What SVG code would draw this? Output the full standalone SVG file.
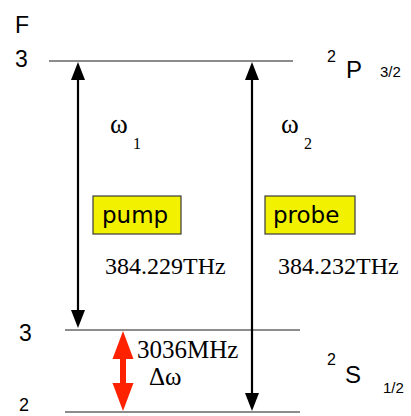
<svg xmlns="http://www.w3.org/2000/svg" width="411" height="416" viewBox="0 0 411 416">
<style>
.lvl{stroke:#8c8c8c;stroke-width:2;fill:none}
.arr{stroke:#000;stroke-width:2.2;fill:none}
.head{fill:#000}
.red{fill:#ff2200}
.sans{font-family:"Liberation Sans",Arial,sans-serif;fill:#000}
.serif{font-family:"Liberation Serif","Times New Roman",serif;fill:#000}
.box{fill:#f2f200;stroke:#3a3a3a;stroke-width:1.2}
.boxt{font-family:"DejaVu Sans",Verdana,sans-serif;font-size:23px;fill:#000}
</style>
<g id="levels">
<line class="lvl" x1="49" y1="61" x2="293" y2="61"/>
<line class="lvl" x1="65" y1="330" x2="300" y2="330"/>
<line class="lvl" x1="65" y1="412" x2="300" y2="412"/>
</g>
<g id="labels-F">
<text class="sans" x="15" y="33" font-size="23">F</text>
<text class="sans" x="15" y="67" font-size="23">3</text>
<text class="sans" x="19" y="341" font-size="23">3</text>
<text class="sans" x="19" y="411" font-size="18">2</text>
</g>
<g id="term-P">
<text class="sans" x="327" y="62" font-size="16">2</text>
<text class="sans" x="346" y="78" font-size="24">P</text>
<text class="sans" x="380" y="77" font-size="15">3/2</text>
</g>
<g id="term-S">
<text class="sans" x="327" y="365" font-size="16">2</text>
<text class="sans" x="345" y="383" font-size="24">S</text>
<text class="sans" x="383" y="393" font-size="15">1/2</text>
</g>
<g id="connectors">
<line class="arr" x1="78" y1="78" x2="78" y2="312"/>
<polygon class="head" points="78,62 71,80 85,80"/>
<polygon class="head" points="78,328 71,310 85,310"/>
<line class="arr" x1="252" y1="78" x2="252" y2="394"/>
<polygon class="head" points="252,62 245,80 259,80"/>
<polygon class="head" points="252,411 245,393 259,393"/>
<rect class="red" x="120" y="357" width="6" height="28"/>
<polygon class="red" points="123,331 112.5,359 133.5,359"/>
<polygon class="red" points="123,411 112.5,383 133.5,383"/>
</g>
<g id="omega1">
<text class="serif" x="110" y="133" font-size="27">ω</text>
<text class="serif" x="133" y="149" font-size="16">1</text>
</g>
<g id="omega2">
<text class="serif" x="281" y="133" font-size="27">ω</text>
<text class="serif" x="304" y="149" font-size="16">2</text>
</g>
<g id="pump">
<rect class="box" x="93" y="196" width="88" height="38"/>
<text class="boxt" x="102" y="223">pump</text>
</g>
<g id="probe">
<rect class="box" x="265" y="196" width="90" height="38"/>
<text class="boxt" x="273" y="223">probe</text>
</g>
<g id="freqs">
<text class="serif" x="105" y="274" font-size="24">384.229THz</text>
<text class="serif" x="278" y="274" font-size="24">384.232THz</text>
<text class="serif" x="137" y="358" font-size="25">3036MHz</text>
<text class="serif" x="149" y="385" font-size="25">Δω</text>
</g>
</svg>
